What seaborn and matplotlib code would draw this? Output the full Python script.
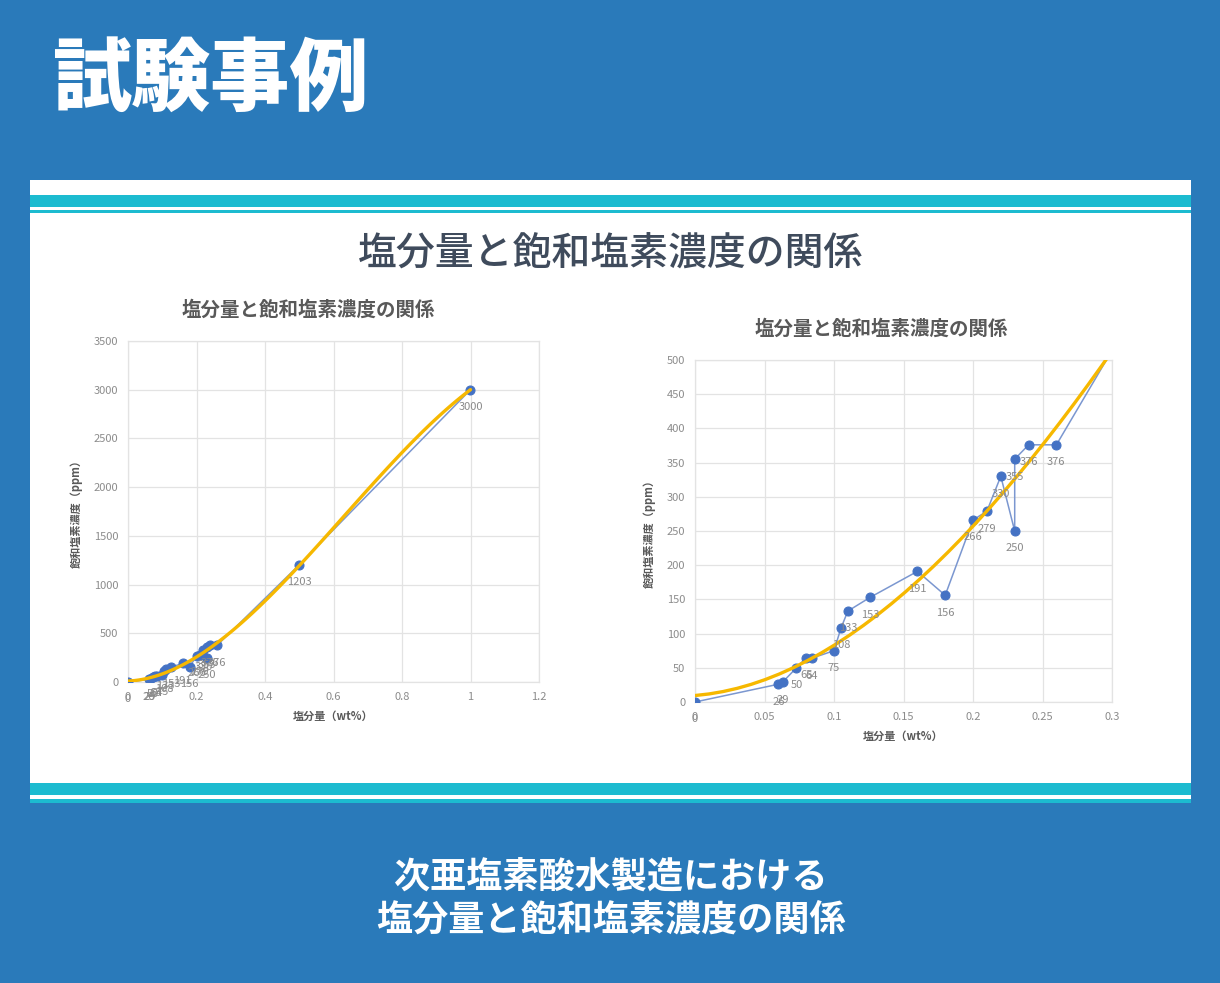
import numpy as np
import pandas as pd
import matplotlib
matplotlib.use("Agg")
import matplotlib.pyplot as plt
from matplotlib.patches import Rectangle
from matplotlib.ticker import MultipleLocator, FuncFormatter
import seaborn as sns

# ---- data ----
salt = [0, 0.06, 0.063, 0.073, 0.08, 0.084, 0.1, 0.105, 0.11, 0.126, 0.16,
        0.18, 0.2, 0.21, 0.22, 0.23, 0.23, 0.24, 0.26, 0.5, 1.0]
chlorine = [0, 26, 29, 50, 65, 64, 75, 108, 133, 153, 191,
            156, 266, 279, 330, 250, 355, 376, 376, 1203, 3000]

page_title = "試験事例"
panel_title = "塩分量と飽和塩素濃度の関係"
chart_title = "塩分量と飽和塩素濃度の関係"
x_label = "塩分量（wt%）"
y_label = "飽和塩素濃度（ppm）"
caption_lines = ["次亜塩素酸水製造における", "塩分量と飽和塩素濃度の関係"]

df = pd.DataFrame({"salt": salt, "chlorine": chlorine})

# ---- style ----
sns.set_theme(style="white")
plt.rcParams["font.family"] = ["Noto Sans CJK JP", "DejaVu Sans"]

W, H = 1220, 983
DPI = 100
fig = plt.figure(figsize=(W / DPI, H / DPI), dpi=DPI)
BLUE_BG = "#2a7aba"
CYAN = "#1cbbd0"
fig.patch.set_facecolor(BLUE_BG)


def rect(x0, y0, x1, y1, color):
    fig.patches.append(Rectangle((x0 / W, 1 - y1 / H), (x1 - x0) / W, (y1 - y0) / H,
                                 transform=fig.transFigure, facecolor=color,
                                 edgecolor="none", zorder=-5))


# white panel + cyan stripes
rect(30, 180, 1191, 803, "white")
rect(30, 195, 1191, 207, CYAN)
rect(30, 210, 1191, 213, CYAN)
rect(30, 783, 1191, 795, CYAN)
rect(30, 799, 1191, 803, CYAN)


def ftext(px, py, s, **kw):
    fig.text(px / W, 1 - py / H, s, **kw)


ftext(52, 80, page_title, color="white", fontsize=57, fontweight="black",
      ha="left", va="center")
ftext(611, 255, panel_title, color="#3f4b5c", fontsize=28, fontweight="medium",
      ha="center", va="center")
ftext(611, 878, caption_lines[0], color="white", fontsize=26, fontweight="bold",
      ha="center", va="center")
ftext(611, 920, caption_lines[1], color="white", fontsize=26, fontweight="bold",
      ha="center", va="center")

LINE_C = "#7b97d0"
MARK_C = "#4472c4"
TREND_C = "#f6b800"
GRID_C = "#e3e3e3"
TICK_C = "#8c8c8c"
LABEL_C = "#595959"


def fmt(v, pos):
    s = f"{v:.2f}".rstrip("0").rstrip(".")
    return s


def draw(ax, xmax, xstep, ymax, ystep):
    ax.set_facecolor("white")
    sns.regplot(data=df, x="salt", y="chlorine", order=3, ci=None, scatter=False,
                truncate=True, ax=ax,
                line_kws=dict(color=TREND_C, lw=2.4, zorder=4))
    sns.lineplot(data=df, x="salt", y="chlorine", sort=False, estimator=None,
                 ax=ax, color=LINE_C, lw=1.1, marker="o", markersize=6.5,
                 markerfacecolor=MARK_C, markeredgecolor=MARK_C, zorder=3)
    for xv, yv in zip(salt, chlorine):
        ax.annotate(str(yv), (xv, yv), xytext=(0, -12.5), textcoords="offset points",
                    ha="center", va="center", fontsize=8, color="#8a8a8a", zorder=5)
    ax.set_xlim(0, xmax)
    ax.set_ylim(0, ymax)
    ax.xaxis.set_major_locator(MultipleLocator(xstep))
    ax.yaxis.set_major_locator(MultipleLocator(ystep))
    ax.xaxis.set_major_formatter(FuncFormatter(fmt))
    ax.yaxis.set_major_formatter(FuncFormatter(fmt))
    ax.grid(True, color=GRID_C, lw=0.9)
    ax.set_axisbelow(True)
    for sp in ax.spines.values():
        sp.set_color(GRID_C)
        sp.set_linewidth(0.9)
    ax.tick_params(axis="both", length=0, labelsize=8, colors=TICK_C, pad=7)
    ax.set_xlabel(x_label, fontsize=8, fontweight="bold", color=LABEL_C, labelpad=6)
    ax.set_ylabel(y_label, fontsize=8, fontweight="bold", color=LABEL_C, labelpad=8)


ax1 = fig.add_axes([128 / W, 1 - 682 / H, 411 / W, 341 / H])
draw(ax1, 1.2, 0.2, 3500, 500)
ftext(308, 310, chart_title, color="#595959", fontsize=14, fontweight="bold",
      ha="center", va="center")

ax2 = fig.add_axes([695 / W, 1 - 702 / H, 417 / W, 342 / H])
draw(ax2, 0.3, 0.05, 500, 50)
ftext(881, 329, chart_title, color="#595959", fontsize=14, fontweight="bold",
      ha="center", va="center")

fig.savefig("out.png", dpi=DPI, facecolor=fig.get_facecolor())
